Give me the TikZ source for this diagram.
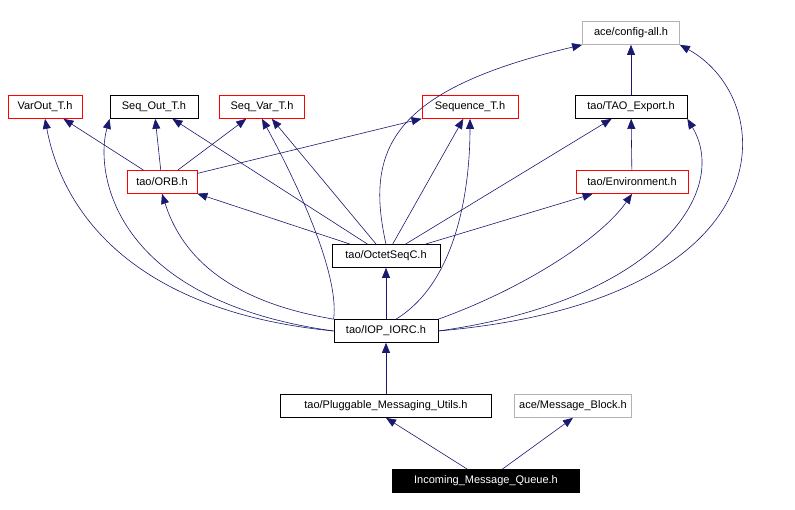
\documentclass[tikz,border=0pt]{standalone}
\usepackage{fontspec}
\setmainfont{Liberation Sans}
\usetikzlibrary{arrows.meta}
\definecolor{navy}{RGB}{25,25,112}
\begin{document}
\begin{tikzpicture}[x=1pt,y=-1pt,
 box/.style={draw,fill=white,inner sep=0pt,minimum height=23pt,font=\fontsize{11}{13}\selectfont,line width=0.7pt},
 red/.style={box,draw=red},
 gray/.style={box,draw=gray!60},
 e/.style={navy,line width=0.6pt,-{Triangle[length=10pt,width=8pt]}}]
\useasboundingbox (0,0) rectangle (795,510);
\node[gray,minimum width=97pt] (cfg) at (631,33) {ace/config-all.h};
\node[red,minimum width=74pt] (vo) at (45,107) {VarOut\_T.h};
\node[box,minimum width=88pt] (so) at (154,107) {Seq\_Out\_T.h};
\node[red,minimum width=85pt] (sv) at (262,107) {Seq\_Var\_T.h};
\node[red,minimum width=96pt] (sq) at (470,107) {Sequence\_T.h};
\node[box,minimum width=112pt] (te) at (631,107) {tao/TAO\_Export.h};
\node[red,minimum width=70pt] (orb) at (162,182) {tao/ORB.h};
\node[red,minimum width=112pt] (env) at (632,182) {tao/Environment.h};
\node[box,minimum width=108pt] (oct) at (386,256) {tao/OctetSeqC.h};
\node[box,minimum width=104pt] (iop) at (386,331) {tao/IOP\_IORC.h};
\node[box,minimum width=211pt] (pm) at (386,406) {tao/Pluggable\_Messaging\_Utils.h};
\node[gray,minimum width=117pt] (mb) at (573,406) {ace/Message\_Block.h};
\node[box,fill=black,text=white,minimum width=187pt] (inc) at (486,481) {Incoming\_Message\_Queue.h};
\begin{scope}[on background layer/.try]
\draw[e] (inc) -- (pm.south);
\draw[e] (inc) -- (mb.south);
\draw[e] (pm) -- (iop);
\draw[e] (iop) -- (oct);
\draw[e] (iop.west) .. controls (120,310) and (60,200) .. (vo.south);
\draw[e] (iop.west) .. controls (110,300) and (95,170) .. (so.south west);
\draw[e] (iop.north west) .. controls (220,300) and (180,250) .. (orb.south);
\draw[e] (iop.north west) .. controls (340,270) and (290,170) .. (sv.south);
\draw[e] (iop.north) ++(10,0) .. controls (460,280) and (470,180) .. (sq.south);
\draw[e] (iop.north east) .. controls (520,290) and (600,240) .. (env.south);
\draw[e] (iop.east) .. controls (660,300) and (730,190) .. (te.south east);
\draw[e] (iop.east) .. controls (790,300) and (780,100) .. (cfg.south east);
\draw[e] (oct.north) .. controls (365,150) and (390,90) .. (cfg.south west);
\draw[e] (oct) -- (orb);
\draw[e] (oct) -- (so);
\draw[e] (oct) -- (sv);
\draw[e] (oct) -- (sq);
\draw[e] (oct) -- (env);
\draw[e] (oct) -- (te);
\draw[e] (orb) -- (vo);
\draw[e] (orb) -- (so);
\draw[e] (orb) -- (sv);
\draw[e] (orb) -- (sq);
\draw[e] (env) -- (te);
\draw[e] (te) -- (cfg);
\end{scope}
\end{tikzpicture}
\end{document}
